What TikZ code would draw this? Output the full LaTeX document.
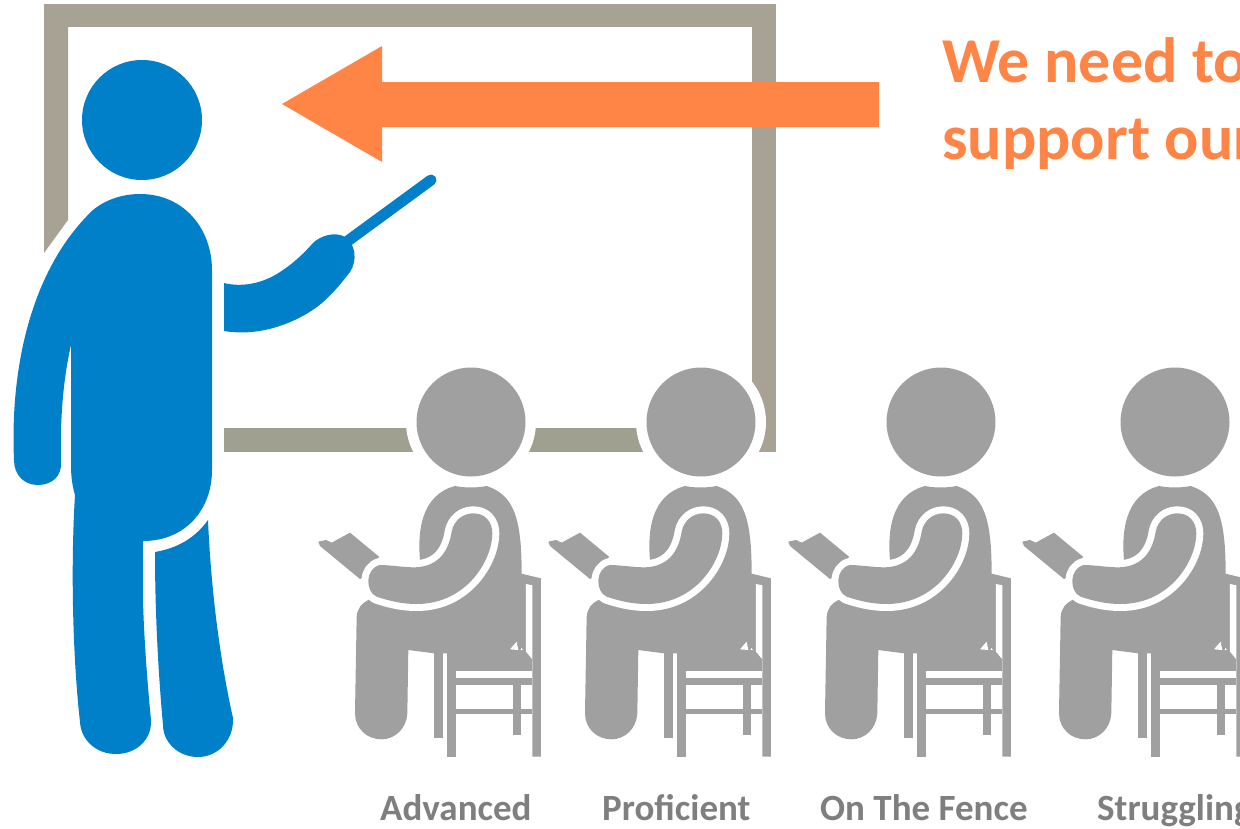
\documentclass[tikz,border=0pt]{standalone}
\usepackage{fontspec}
\setmainfont{Carlito}
\definecolor{tblue}{HTML}{0080C8}
\definecolor{sgray}{HTML}{A0A0A0}
\definecolor{boardc}{HTML}{A8A294}
\definecolor{boardb}{HTML}{A0A090}
\definecolor{orangec}{HTML}{FF8547}
\definecolor{labelc}{HTML}{7F7F7F}
\tikzset{
  biglabel/.style={anchor=base west,inner sep=0pt,text=orangec,font=\fontsize{64}{66}\selectfont\bfseries},
  grouplabel/.style={anchor=base west,inner sep=0pt,text=labelc,font=\fontsize{37}{39}\selectfont\bfseries},
  halo/.style={draw=white,line width=14pt,line join=round}
}
\begin{document}
\begin{tikzpicture}[x=1pt,y=-1pt]
\useasboundingbox (0,0) rectangle (1240,828);
\clip (0,0) rectangle (1240,828);
\fill[white] (0,0) rectangle (1240,828);
% board
\fill[boardc] (44,4) rectangle (776,27);
\fill[boardc] (752,4) rectangle (776,452);
\fill[boardc] (44,4) -- (68,4) -- (68,220) -- (44,253) -- cycle;
\fill[boardb] (224,428) rectangle (752,452);
% teacher
\fill[tblue] (140,194) .. controls (185,194) and (212,230) .. (212,270) -- (212,470)
  .. controls (212,510) and (185,541) .. (143,541) -- (143,600) .. controls (144,640) and (148,690) .. (151,720)
  .. controls (152,740) and (136,754) .. (116,754) .. controls (96,754) and (81,740) .. (80,722)
  .. controls (72,650) and (71,560) .. (75,495) .. controls (72,485) and (71,475) .. (71,465)
  -- (71,345) .. controls (63,380) and (60,420) .. (61,462) .. controls (62,476) and (52,485) .. (38,485)
  .. controls (24,485) and (14,475) .. (14,460) .. controls (10,370) and (30,270) .. (93,210)
  .. controls (105,200) and (122,194) .. (140,194) -- cycle;
\fill[tblue] (155,552) .. controls (178,548) and (195,538) .. (208,520) .. controls (211,590) and (220,660) .. (233,718)
  .. controls (234,740) and (218,757) .. (198,757) .. controls (178,757) and (163,742) .. (163,725)
  .. controls (158,670) and (155,610) .. (155,552) -- cycle;
\fill[tblue] (142,120) circle[radius=60];
\fill[tblue] (224,283) .. controls (240,287) and (262,285) .. (283,270) .. controls (295,262) and (305,252) .. (313,243)
  .. controls (320,236) and (335,231) .. (345,237) .. controls (355,243) and (358,260) .. (350,272)
  .. controls (340,285) and (330,297) .. (317,307) .. controls (295,323) and (260,337) .. (224,331) -- cycle;
\draw[tblue,line width=11pt,line cap=round] (345,243) -- (431,180);
% students
\foreach \off in {0,230,470,704}{
  \fill[white] (471+\off,422) circle[radius=65];
  \fill[sgray] (471+\off,422) circle[radius=54.5];
  \begin{scope}[x=.33333pt,y=-.33333pt,shift={(900+3*\off,1080)}]
    % book
    \fill[sgray] (55,545) -- (78,540) -- (95,548) -- (150,518) -- (237,590) -- (215,640) -- (180,657) -- (60,558) -- cycle;
    % chair
    \fill[sgray] (660,640) -- (723,655) -- (723,1190) -- (697,1190) -- (697,898) -- (660,860) -- cycle;
    \fill[sgray] (440,870) rectangle (697,932);
    \fill[sgray] (440,955) rectangle (697,975);
    \fill[sgray] (440,1047) rectangle (697,1063);
    \fill[sgray] (440,915) rectangle (467,1190);
    \fill[sgray] (638,960) rectangle (663,1125);
    \fill[sgray] (402,870) rectangle (430,1133);
    \fill[white] (678,672) -- (697,676) -- (697,898) -- (678,875) -- cycle;
    % body
    \fill[sgray] (360,600) .. controls (352,510) and (365,405) .. (465,378) .. controls (495,384) and (530,384) .. (560,378)
      .. controls (640,405) and (665,470) .. (665,640) -- (665,850) -- (660,880) -- (402,880) -- (325,870)
      -- (322,1060) .. controls (320,1105) and (285,1138) .. (245,1138) .. controls (200,1138) and (165,1105) .. (165,1060)
      -- (170,770) .. controls (172,745) and (185,730) .. (205,720) -- cycle;
    \fill[white] (630,868) -- (650,845) -- (655,870) -- cycle;
    % arm
    \path[fill=sgray,halo] (240,615) .. controls (280,616) and (310,622) .. (345,622)
      .. controls (410,620) and (445,580) .. (455,515) .. controls (462,480) and (490,460) .. (520,460)
      .. controls (555,460) and (577,485) .. (577,520) .. controls (577,600) and (500,732) .. (350,732)
      .. controls (300,732) and (260,720) .. (230,710) .. controls (195,695) and (195,625) .. (240,615) -- cycle;
    \fill[sgray] (240,615) .. controls (280,616) and (310,622) .. (345,622)
      .. controls (410,620) and (445,580) .. (455,515) .. controls (462,480) and (490,460) .. (520,460)
      .. controls (555,460) and (577,485) .. (577,520) .. controls (577,600) and (500,732) .. (350,732)
      .. controls (300,732) and (260,720) .. (230,710) .. controls (195,695) and (195,625) .. (240,615) -- cycle;
  \end{scope}
}
% arrow
\fill[orangec] (282,104) -- (382,46) -- (382,82) -- (879,82) -- (879,127) -- (382,127) -- (382,162) -- cycle;
% texts
\node[biglabel] (line1) at (942,82) {We need to};
\node[biglabel] (line2) at (942,159) {support our};
\node[grouplabel] (adv) at (380,820) {Advanced};
\node[grouplabel] (prof) at (602,820) {Proficient};
\node[grouplabel] (fence) at (820,820) {On The Fence};
\node[grouplabel] (strug) at (1097,820) {Struggling};
\end{tikzpicture}
\end{document}
